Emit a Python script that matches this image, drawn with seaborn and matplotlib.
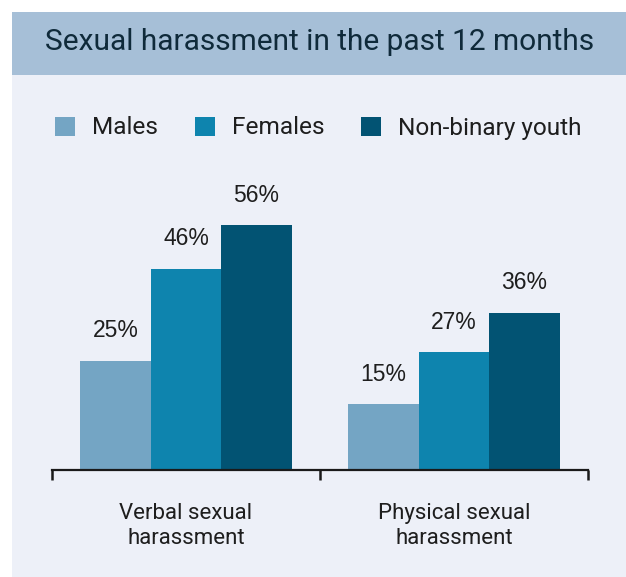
import matplotlib
matplotlib.use("Agg")
import matplotlib.pyplot as plt
from matplotlib.patches import Rectangle, Patch
import seaborn as sns
import pandas as pd

categories = ["Verbal sexual\nharassment", "Physical sexual\nharassment"]
groups = ["Males", "Females", "Non-binary youth"]
males = [25, 15]
females = [46, 27]
nonbinary = [56, 36]
colors = ["#74A5C4", "#0E84AE", "#025373"]

rows = []
for grp, vals in zip(groups, [males, females, nonbinary]):
    for cat, v in zip(categories, vals):
        rows.append({"category": cat, "group": grp, "value": v})
df = pd.DataFrame(rows)

sns.set_theme(style="white")
plt.rcParams["font.family"] = ["Roboto", "DejaVu Sans"]

W, H = 626, 577
fig = plt.figure(figsize=(W / 100, H / 100), dpi=100)
fig.patch.set_facecolor("white")

# panel background and title band
fig.patches.append(Rectangle((12 / W, 0), 1 - 12 / W, (H - 75) / H,
                             transform=fig.transFigure, facecolor="#EDF0F8",
                             edgecolor="none", zorder=-2))
fig.patches.append(Rectangle((12 / W, (H - 75) / H), 1 - 12 / W, 63 / H,
                             transform=fig.transFigure, facecolor="#A6BFD7",
                             edgecolor="none", zorder=-2))
fig.text(320 / W, 1 - 42 / H, "Sexual harassment in the past 12 months",
         ha="center", va="center", fontsize=21.5, color="#0F2A3A")

ymax = 60
px_per = 4.37
bottom_px = 470
ax = fig.add_axes([52 / W, (H - bottom_px) / H, (588 - 52) / W, ymax * px_per / H])
ax.set_facecolor("none")

sns.barplot(data=df, x="category", y="value", hue="group", order=categories,
            hue_order=groups, palette=colors, width=0.79, gap=0,
            saturation=1, edgecolor="none", linewidth=0, ax=ax, legend=False)

for cont in ax.containers:
    for bar in cont:
        h = bar.get_height()
        ax.annotate(f"{h:.0f}%", (bar.get_x() + bar.get_width() / 2, h),
                    xytext=(0, 30), textcoords="offset pixels",
                    ha="center", va="center", fontsize=16.5, color="#1E1E1E",
                    family=["Liberation Sans", "DejaVu Sans"],
                    annotation_clip=False)

ax.set_xlim(-0.5, 1.5)
ax.set_ylim(0, ymax)
ax.set_xlabel("")
ax.set_ylabel("")
ax.set_yticks([])
for s in ["left", "right", "top"]:
    ax.spines[s].set_visible(False)
ax.spines["bottom"].set_color("#1A1A1A")
ax.spines["bottom"].set_linewidth(1.6)
ax.set_xticks([0, 1])
ax.set_xticklabels(categories, fontsize=16, color="#1E1E1E", linespacing=1.2)
ax.tick_params(axis="x", which="major", length=0, pad=24)
ax.set_xticks([-0.5, 0.5, 1.5], minor=True)
ax.tick_params(axis="x", which="minor", length=7, width=1.8, color="#1A1A1A",
               direction="out", bottom=True)

handles = [Patch(facecolor=c, edgecolor="none") for c in colors]
fig.legend(handles, groups, loc="center", bbox_to_anchor=(318.5 / W, 1 - 128 / H),
           ncol=3, frameon=False, fontsize=17.6, handlelength=0.82, handleheight=0.82,
           handletextpad=0.69, columnspacing=1.5, labelcolor="#1E1E1E")

fig.savefig("out.png", dpi=100, facecolor="white")
